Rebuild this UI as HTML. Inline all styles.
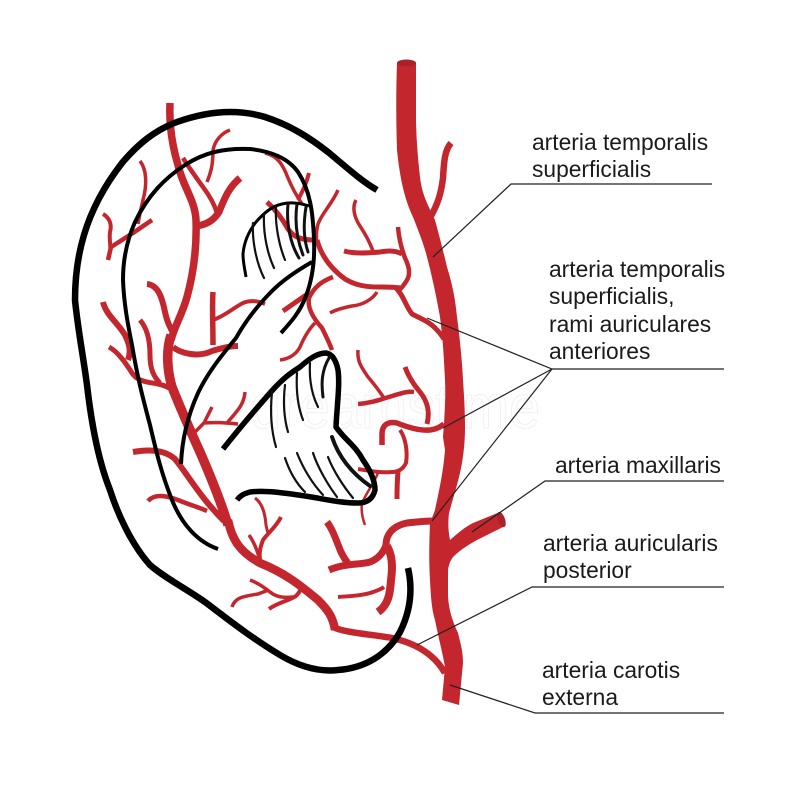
<!DOCTYPE html>
<html><head><meta charset="utf-8"><style>
html,body{margin:0;padding:0;background:#fff}
svg{display:block}
text{font-family:"Liberation Sans",sans-serif;font-size:22.8px;fill:#1a1a1a}
.r{fill:none;stroke:#c4262e;stroke-linecap:butt;stroke-linejoin:round}
.k{fill:none;stroke:#000;stroke-linejoin:round}
.h{fill:none;stroke:#111;stroke-width:2.2;stroke-linecap:round}
</style></head><body>
<svg width="800" height="800" viewBox="0 0 800 800" xmlns="http://www.w3.org/2000/svg">
<rect width="800" height="800" fill="#fff"/>
<text x="250" y="428" style="font-size:62px;fill:#fff;stroke:#f0f0f0;stroke-width:1" textLength="290" lengthAdjust="spacingAndGlyphs">dreamstime</text>

<!-- main artery -->
<path fill="#c4262e" d="M397 63C396 90 396 120 397 150C400 180 405 200 413 217C420 235 424 245 427 257C433 280 437 300 440 317C443 340 444 360 445 380C446 400 444 425 443 437L445 450C443 475 438 495 435 510L430 523C429 545 429 565 430 580C431 600 432 610 435 620C439 640 443 655 445 667L442 700L459 705L463 663C463 650 460 642 458 633C452 620 449 610 448 597L448 570C449 563 451 560 453 557C460 550 468 545 477 540L503 527L500 512L473 523C465 527 458 533 450 540C448 530 448 522 449 513C454 495 459 480 462 463C464 450 465 440 465 427C465 410 464 395 463 380C462 360 460 340 457 317C455 295 451 280 447 267C443 250 439 235 435 220C428 205 422 195 420 177C417 150 416 130 416 117L416 63Z"/>
<ellipse cx="406.500" cy="63" rx="9.500" ry="3.500" fill="#a92229"/>
<ellipse cx="501.500" cy="519.500" rx="3.500" ry="8" transform="rotate(-20 501.500 519.500)" fill="#a92229"/>

<!-- temporal side branch -->
<path class="r" stroke-width="6.500" d="M451 143C445 150 444 160 443 178C441 195 437 205 431 216"/>

<!-- main ear vessel -->
<path class="r" stroke-width="7.500" d="M170 103C169 125 172 145 178 165C183 187 195 200 196 220C197 250 193 275 187 297C182 315 175 325 171 340"/>
<path class="r" stroke-width="9.500" d="M171 335C166 350 167 370 172 387C180 407 190 430 200 452C210 475 222 505 228 525"/>
<path class="r" stroke-width="8.500" d="M228 520C232 540 240 552 260 563C285 573 300 585 318 600C328 610 333 617 335 630"/>
<path class="r" stroke-width="6.500" d="M333 627C345 633 370 634 392 638C410 642 422 648 432 657C438 662 442 668 445 673"/>

<!-- upper branches of ear -->
<path class="r" stroke-width="7" d="M196 226C206 225 214 220 219 212C224 200 228 188 240 178"/>
<path class="r" stroke-width="4.500" d="M217 213C214 203 209 195 203 187C195 176 188 166 183 158"/>
<path class="r" stroke-width="3.500" d="M207 182C211 172 213 165 213 150C215 140 222 133 230 130"/>
<path class="r" stroke-width="3.500" d="M140 161C147 170 147 185 143 200C140 212 139 218 138 224"/>
<path class="r" stroke-width="4.500" d="M152 220L133 233L111 247L108 260"/>
<path class="r" stroke-width="4" d="M103 214C110 218 112 225 110 232C109 240 111 245 110 248"/>
<path class="r" stroke-width="6" d="M147 284C158 285 162 297 165 312C167 322 170 328 174 334"/>
<path class="r" stroke-width="5.500" d="M213 292C212 305 213 325 213 345"/>
<path class="r" stroke-width="4" d="M213 320C225 316 233 308 243 303C250 300 258 301 265 304"/>
<path class="r" stroke-width="6" d="M173 347C180 353 198 358 212 351C225 347 232 346 238 346"/>

<path class="r" stroke-width="6" d="M103 302C106 315 118 323 125 335C130 345 131 352 128 360"/>
<path class="r" stroke-width="5" d="M109 347C118 352 125 362 132 373C138 382 148 382 158 384C163 385 166 386 169 388"/>
<path class="r" stroke-width="5" d="M140 320C147 328 150 340 150 355C150 368 153 376 160 383"/>

<!-- mid branches -->
<path class="r" stroke-width="6" d="M133 452C150 449 165 450 175 459C188 475 200 497 224 521"/>
<path class="r" stroke-width="4.500" d="M148 501C154 494 165 495 178 500C190 505 198 507 207 511"/>
<path class="r" stroke-width="3.500" d="M212 407L204 423L193 434M203 423C218 422 226 423 238 424M227 423C235 413 244 406 245 392"/>

<!-- lower ear branches -->
<path class="r" stroke-width="3" d="M255 498C262 503 265 512 266 525C267 530 268 532 267 533"/>
<path class="r" stroke-width="4" d="M281 517C276 527 268 533 263 540C260 548 259 553 260 560"/>
<path class="r" stroke-width="3.500" d="M249 535C254 542 257 550 259 557"/>
<path class="r" stroke-width="3.500" d="M232 607C235 597 245 596 258 594C263 592 266 591 268 590"/>
<path class="r" stroke-width="3.500" d="M250 580C258 583 265 588 270 592C276 597 285 598 293 597"/>
<path class="r" stroke-width="4" d="M269 609C277 603 288 601 296 596C300 592 301 589 302 586"/>

<!-- posterior region -->
<path class="r" stroke-width="7" d="M327 522C333 530 336 540 341 552C344 558 346 561 348 563"/>
<path class="r" stroke-width="7" d="M329 570C345 563 360 565 370 562C378 559 384 552 386 545C386 535 392 526 407 523C416 522 425 521 433 521"/>
<path class="r" stroke-width="4" d="M338 597C350 596 360 596 370 593C376 591 380 590 384 587"/>
<path class="r" stroke-width="8" d="M378 612C388 605 390 595 391 580C393 565 392 555 387 546"/>

<!-- upper right branches -->
<path class="r" stroke-width="3.500" d="M265 153C278 156 283 165 288 178C293 190 298 198 302 204"/>
<path class="r" stroke-width="4" d="M309 173C306 185 302 192 298 200"/>
<path class="r" stroke-width="5" d="M267 202C276 210 282 218 288 229C294 238 303 240 314 240"/>
<path class="r" stroke-width="3.500" d="M338 190C332 204 322 213 318 224C316 232 316 238 317 244"/>
<path class="r" stroke-width="5" d="M317 240C321 255 330 268 345 279C355 285 365 287 378 287C388 287 394 287 400 288"/>
<path class="r" stroke-width="4.500" d="M333 277C322 281 314 287 309 298C307 308 313 318 322 328C326 336 329 342 332 350"/>
<path class="r" stroke-width="3.500" d="M356 200C352 207 354 217 360 226C366 235 370 243 373 251"/>
<path class="r" stroke-width="5" d="M344 251C355 254 368 253 380 252C390 250 397 251 402 254"/>
<path class="r" stroke-width="4.500" d="M398 227C399 240 402 250 405 258C410 268 410 275 407 280C404 285 402 288 399 290"/>
<path class="r" stroke-width="5" d="M396 288C404 296 405 305 412 314C420 318 430 322 437 330C440 333 442 336 444 339"/>
<path class="r" stroke-width="3.500" d="M377 292C372 300 362 305 352 306C342 308 335 310 330 313"/>
<path class="r" stroke-width="5" d="M306 295L283 311"/>
<path class="r" stroke-width="3.500" d="M315 323C308 330 303 340 300 347C296 355 288 359 280 360"/>

<!-- central branches -->
<path class="r" stroke-width="3.500" d="M358 350C357 362 362 368 368 377C375 385 380 392 384 398"/>
<path class="r" stroke-width="4.500" d="M358 404C372 403 382 399 392 396C402 393 408 391 414 392"/>
<path class="r" stroke-width="5" d="M405 367C409 378 414 385 420 392C428 402 430 412 427 424"/>
<path class="r" stroke-width="5.500" d="M382 445L382 434C382 425 388 421 397 423C407 427 420 431 430 430C437 429 440 427 444 424"/>
<path class="r" stroke-width="4" d="M400 430C405 437 408 450 406 463C403 469 398 472 392 472C380 473 370 471 358 469"/>
<path class="r" stroke-width="5" d="M398 472C397 482 397 492 397 499"/>
<path class="r" stroke-width="2.500" d="M378 473C373 485 368 490 362 503C361 510 362 517 365 525"/>

<!-- outer ear -->
<path class="k" stroke-width="6.500" d="M377 190C360 180 345 166 328 152C310 138 290 125 265 117C235 108 205 112 177 122C155 130 138 144 122 163C105 185 92 208 84 235C78 255 75 275 75 300C78 330 83 355 87 385C91 420 98 460 110 490C118 515 132 545 150 565C165 578 185 588 205 602C225 617 250 637 280 655C300 667 320 672 338 670C365 668 387 655 400 632C410 612 413 590 408 568"/>
<!-- inner helix -->
<path class="k" stroke-width="4" d="M281 333C291 322 300 312 306 296C312 280 315 262 314 240C313 212 310 190 298 172C288 158 270 151 250 149C225 148 205 152 185 165C165 178 148 195 135 222C127 240 123 260 123 280C124 305 128 325 132 345C137 375 142 395 150 425C157 455 162 475 172 500C182 525 198 542 218 549"/>
<!-- antihelix -->
<path class="k" stroke-width="4" d="M312 262C298 270 283 280 272 291C258 305 245 322 236 338C222 355 208 372 198 393C188 415 182 440 181 464"/>
<!-- upper arc -->
<path class="k" stroke-width="3" d="M309 206C300 203 290 202 282 204C272 206 264 213 256 222C249 231 244 242 243 254C243 263 245 270 246 277"/>
<g class="h">
<path d="M253 223C252 240 256 262 264 278"/>
<path d="M264 214C263 235 268 255 274 268"/>
<path d="M276 207C275 225 279 245 285 260"/>
<path d="M288 204C286 225 291 245 299 258" stroke-width="3"/>
<path d="M297 204C294 225 298 242 303 255" stroke-width="3"/>
<path d="M306 207C303 225 304 240 308 252" stroke-width="3"/>
</g>
<!-- concha -->
<path class="k" stroke-width="5.500" d="M223 449C238 430 255 410 270 393C283 378 292 372 300 367C310 358 318 353 326 353C332 354 336 360 338 370C340 385 337 405 336 427C345 440 355 445 363 460C370 470 375 480 375 490C373 498 368 503 358 503C340 503 325 499 305 496C285 493 265 490 250 492C243 494 240 496 237 500"/>
<g class="h">
<path d="M272 392C270 412 271 430 276 447"/>
<path d="M285 385C283 402 284 418 288 432"/>
<path d="M297 373C296 390 298 407 303 420"/>
<path d="M310 363C309 380 312 395 318 407"/>
<path d="M329 358C322 370 321 382 323 397" stroke-width="3"/>
<path d="M285 458C290 473 297 484 305 492"/>
<path d="M297 453C303 468 312 483 323 495"/>
<path d="M313 453C318 468 328 485 337 497"/>
<path d="M328 457C333 470 343 486 353 498"/>
<path d="M332 437C338 455 350 472 370 486" stroke-width="4"/>
</g>

<!-- leader lines -->
<g fill="none" stroke="#222" stroke-width="1.200">
<path d="M433 257L511 184L712 184"/>
<path d="M427 318L552 369L724 369"/>
<path d="M443 428L552 369"/>
<path d="M432 521L552 369"/>
<path d="M472 532L545 481L724 481"/>
<path d="M417 645L532 587L724 587"/>
<path d="M450 685L535 713L724 713"/>
</g>

<text x="532" y="150">arteria temporalis</text>
<text x="532" y="177">superficialis</text>
<text x="549" y="277">arteria temporalis</text>
<text x="549" y="304">superficialis,</text>
<text x="549" y="332">rami auriculares</text>
<text x="549" y="359">anteriores</text>
<text x="555" y="473">arteria maxillaris</text>
<text x="543" y="551">arteria auricularis</text>
<text x="543" y="578">posterior</text>
<text x="542" y="678">arteria carotis</text>
<text x="542" y="705">externa</text>
</svg>
</body></html>
